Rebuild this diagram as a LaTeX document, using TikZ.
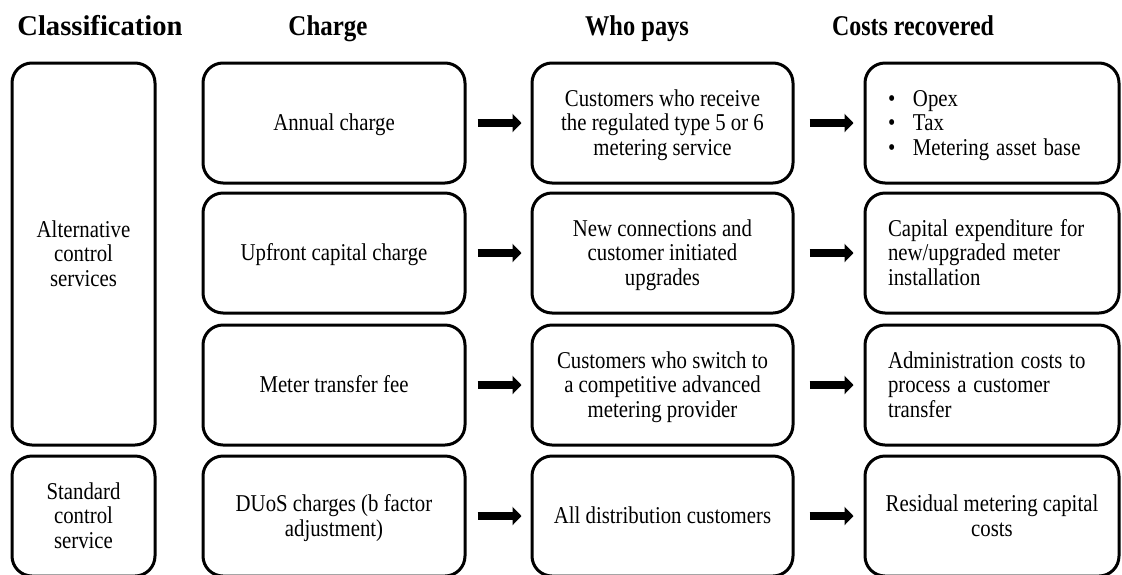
\documentclass[tikz,border=0pt]{standalone}
\usepackage{fontspec}
\setmainfont{Liberation Serif}
\usepackage{graphicx}
\usetikzlibrary{arrows.meta}

% text set slightly taller than wide, one tabular per node, nudged down to sit optically centred
\newcommand\tallbox[2]{\raisebox{-3pt}[\height][\depth]{\scalebox{1}[1.16]{\begin{tabular}{@{}#1@{}}#2\end{tabular}}}}
\newcommand\headtext[2]{\scalebox{#1}[1.1]{#2}}

\begin{document}
\begin{tikzpicture}[x=1pt,y=-1pt,
  card/.style={draw, line width=3pt, rounded corners=20pt, inner sep=0pt,
    font=\fontsize{20.8}{21.1}\selectfont, align=center},
  leftcard/.style={card, inner xsep=23pt, text width=208pt, align=left},
  head/.style={font=\bfseries\fontsize{26}{28}\selectfont, anchor=base, inner sep=0pt},
  flow/.style={line width=8pt, -{Triangle[length=9pt,width=18pt]}},
  flowA/.style={flow, shorten <=11pt, shorten >=9pt},
  flowB/.style={flow, shorten <=15pt, shorten >=10pt}]

\useasboundingbox (0,0) rectangle (1122,574);
\clip (0,0) rectangle (1122,574);

% column headings
\node[head] (hClass) at (100,35) {\headtext{1.1}{Classification}};
\node[head] (hCharge) at (328,35) {\headtext{0.96}{Charge}};
\node[head] (hWho) at (637,35) {\headtext{0.94}{Who pays}};
\node[head] (hCost) at (913,35) {\headtext{0.92}{Costs recovered}};

% classification boxes
\node[card, minimum width=143pt, minimum height=382pt] (acs) at (83.5,254)
  {\tallbox{c}{Alternative\\control\\services}};
\node[card, minimum width=143pt, minimum height=120pt] (scs) at (83.5,516)
  {\tallbox{c}{Standard\\control\\service}};

% charges
\node[card, minimum width=262pt, minimum height=120pt] (c1) at (334,123)
  {\tallbox{c}{Annual charge}};
\node[card, minimum width=262pt, minimum height=120pt] (c2) at (334,253)
  {\tallbox{c}{Upfront capital charge}};
\node[card, minimum width=262pt, minimum height=120pt] (c3) at (334,385)
  {\tallbox{c}{Meter transfer fee}};
\node[card, minimum width=262pt, minimum height=120pt] (c4) at (334,516)
  {\tallbox{c}{DUoS charges (b factor\\adjustment)}};

% who pays
\node[card, minimum width=261pt, minimum height=120pt] (w1) at (662.5,123)
  {\tallbox{c}{Customers who receive\\the regulated type 5 or 6\\metering service}};
\node[card, minimum width=261pt, minimum height=120pt] (w2) at (662.5,253)
  {\tallbox{c}{New connections and\\customer initiated\\upgrades}};
\node[card, minimum width=261pt, minimum height=120pt] (w3) at (662.5,385)
  {\tallbox{c}{Customers who switch to\\a competitive advanced\\metering provider}};
\node[card, minimum width=261pt, minimum height=120pt] (w4) at (662.5,516)
  {\tallbox{c}{All distribution customers}};

% costs recovered
\node[leftcard, minimum height=120pt] (r1) at (992,123)
  {\tallbox{p{25pt}@{}l}{\textbullet & Opex\\ \textbullet & Tax\\ \textbullet & Metering asset base}};
\node[leftcard, minimum height=120pt] (r2) at (992,253)
  {\tallbox{l}{Capital expenditure for\\new/upgraded meter\\installation}};
\node[leftcard, minimum height=120pt] (r3) at (992,385)
  {\tallbox{l}{Administration costs to\\process a customer\\transfer}};
\node[card, minimum width=254pt, minimum height=120pt] (r4) at (992,516)
  {\tallbox{c}{Residual metering capital\\costs}};

% arrows
\foreach \i in {1,2,3,4}{
  \draw[flowA] (c\i.east) -- (w\i.west);
  \draw[flowB] (w\i.east) -- (r\i.west);
}
\end{tikzpicture}
\end{document}
